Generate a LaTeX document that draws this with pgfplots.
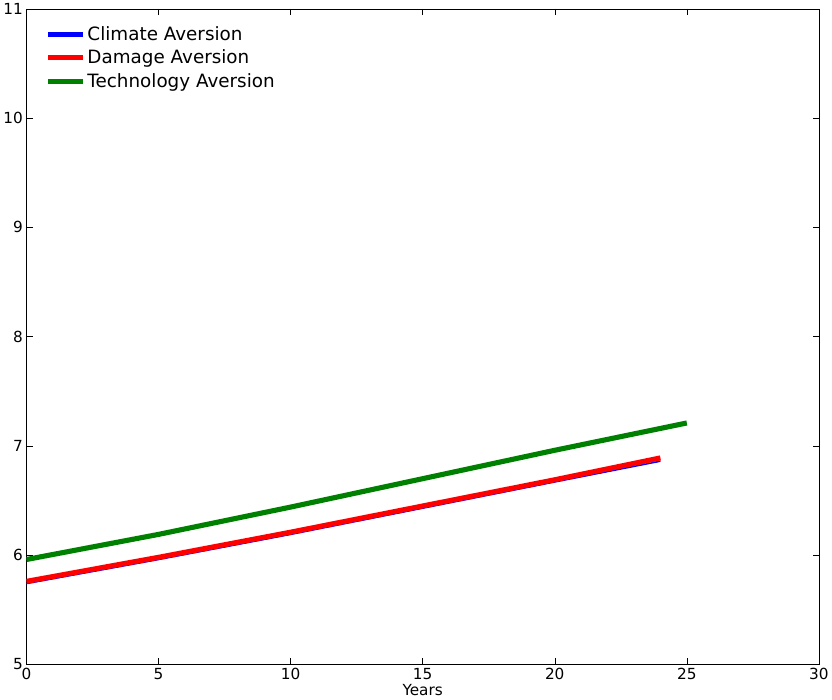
\documentclass[border=0pt]{standalone}
\usepackage{pgfplots}
\pgfplotsset{compat=1.18}
\usepackage{fontspec}
\setmainfont{DejaVu Sans}
\begin{document}
\begin{tikzpicture}
\begin{axis}[
  scale only axis, width=775bp, height=641bp,
  xmin=0, xmax=30, ymin=5, ymax=11,
  xtick={0,5,...,30}, ytick={5,6,...,11},
  tick align=inside, tick style={black, thin}, major tick length=6bp,
  /pgf/number format/assume math mode=true,
  ticklabel style={font=\fontsize{15}{18}\selectfont},
  xlabel={Years}, xlabel style={font=\fontsize{15}{18}\selectfont, yshift=2bp},
  legend style={draw=none, fill=none, at={(0.02,0.98)}, anchor=north west, font=\fontsize{18}{21}\selectfont, row sep=4bp},
  legend cell align=left,
  legend image code/.code={\draw[#1, line width=5bp] (0cm,0cm) -- (1.2cm,0cm);},
]
\addplot[blue, line width=1.5bp] coordinates {(0,5.74)(5,5.96)(10,6.19)(15,6.43)(20,6.67)(24,6.86)};
\addlegendentry{Climate Aversion}
\addplot[red, line width=5bp] coordinates {(0,5.76)(5,5.98)(10,6.21)(15,6.45)(20,6.69)(24,6.89)};
\addlegendentry{Damage Aversion}
\addplot[green!50!black, line width=5bp] coordinates {(0,5.96)(5,6.19)(10,6.44)(15,6.70)(20,6.96)(25,7.21)};
\addlegendentry{Technology Aversion}
\end{axis}
\end{tikzpicture}
\end{document}
